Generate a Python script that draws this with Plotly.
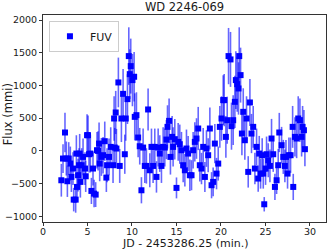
import plotly.graph_objects as go

time_min = [2.06, 2.25, 2.47, 2.62, 2.74, 2.89, 3.07, 3.19, 3.37, 3.45,
            3.67, 3.75, 3.82, 3.94, 4.05, 4.12, 4.20, 4.35, 4.50, 4.72,
            4.80, 4.95, 5.06, 5.17, 5.32, 5.44, 5.62, 5.74, 5.92, 6.07,
            6.19, 6.30, 6.37, 6.56, 6.75, 6.94, 7.12, 7.20, 7.42, 7.61,
            7.87, 7.99, 8.06, 8.17, 8.25, 8.47, 8.62, 8.81, 9.00, 9.19,
            9.30, 9.49, 9.64, 9.75, 9.86, 10.05, 10.24, 10.31, 10.50, 10.69,
            10.87, 11.06, 11.25, 11.44, 11.62, 11.81, 12.00, 12.19, 12.37, 12.56,
            12.75, 12.94, 13.12, 13.31, 13.50, 13.69, 13.87, 13.99, 14.17, 14.32,
            14.51, 14.62, 14.81, 15.00, 15.19, 15.37, 15.56, 15.75, 15.94, 16.12,
            16.31, 16.50, 16.69, 16.87, 17.06, 17.25, 17.44, 17.62, 17.81, 18.00,
            18.19, 18.37, 18.56, 18.75, 18.94, 19.12, 19.31, 19.50, 19.69, 19.87,
            20.06, 20.25, 20.36, 20.55, 20.70, 20.85, 21.07, 21.18, 21.37, 21.56,
            21.67, 21.82, 21.97, 22.05, 22.20, 22.35, 22.50, 22.68, 22.87, 23.06,
            23.25, 23.43, 23.62, 23.81, 24.00, 24.18, 24.30, 24.45, 24.63, 24.75,
            24.86, 25.01, 25.12, 25.31, 25.50, 25.68, 25.87, 26.06, 26.25, 26.43,
            26.55, 26.81, 27.00, 27.18, 27.30, 27.48, 27.63, 27.82, 28.05, 28.12,
            28.31, 28.50, 28.68, 28.87, 29.06, 29.17, 29.32, 29.43]

flux = [-449, -117, 281, -117, -464, -117, -194, -398, -270, -745,
        -745, -41, -551, -372, -219, -41, -474, -219, -92, -270,
        -388, 240, 240, -51, -41, -612, -270, -653, -668, 10,
        0, 112, -194, -92, -66, 148, -408, -219, -92, 61,
        -219, 495, 51, 587, 36, 1046, -230, 495, 872, -51,
        495, 791, 1449, 1173, 1296, 1082, 1133, 520, 546, 204,
        71, -602, 51, -230, -230, 633, -296, 61, -230, 61,
        -398, 51, -41, -230, 61, 51, 173, 367, 459, -92,
        214, 61, 179, -566, 138, 102, 10, -219, -296, 36,
        -41, -372, -372, 10, 138, 189, 342, -219, -270, 61,
        -398, 36, -66, 342, -525, -474, 112, -347, -194, 367,
        495, 776, 776, 214, 469, 1449, 1398, 378, 469, 750,
        1082, 1020, 954, 1449, 1158, 265, 597, 163, 495, -321,
        740, 265, 367, -270, 61, -423, -41, -347, -66, -347,
        -816, -270, -51, -143, -230, 189, -51, -551, -449, -219,
        281, 87, -92, -230, -92, -347, -66, -66, 367, -551,
        214, 189, 495, 469, 214, 367, 316, 26]

flux_err = [250, 220, 300, 260, 240, 250, 260, 230, 250, 180,
            200, 280, 230, 250, 260, 300, 240, 260, 280, 250,
            240, 320, 300, 280, 290, 200, 260, 210, 190, 280,
            300, 320, 270, 290, 280, 300, 220, 260, 280, 300,
            270, 340, 300, 330, 300, 380, 260, 360, 380, 300,
            340, 380, 440, 380, 420, 400, 380, 360, 350, 300,
            280, 200, 290, 260, 270, 320, 260, 280, 260, 280,
            240, 290, 280, 260, 300, 290, 300, 330, 340, 270,
            320, 300, 310, 160, 290, 300, 280, 260, 250, 290,
            270, 240, 230, 280, 300, 310, 330, 250, 240, 290,
            230, 280, 260, 320, 200, 220, 300, 240, 260, 320,
            340, 380, 400, 320, 360, 430, 420, 360, 380, 400,
            440, 420, 400, 440, 420, 330, 360, 300, 340, 240,
            360, 300, 320, 240, 280, 200, 270, 230, 260, 230,
            110, 250, 270, 260, 250, 300, 270, 200, 210, 250,
            300, 280, 260, 250, 260, 230, 270, 270, 320, 200,
            300, 300, 340, 330, 300, 320, 310, 260]

FONT = "DejaVu Sans"
TXT = "#1a1a1a"

fig = go.Figure()
fig.add_trace(go.Scatter(
    x=time_min, y=flux, mode="markers", name="FUV",
    marker=dict(symbol="square", size=6, color="#0000ff"),
    error_y=dict(type="data", array=flux_err, visible=True,
                 color="rgba(0,0,255,0.6)", thickness=1.6, width=0),
))

axis_common = dict(
    showgrid=False, zeroline=False, showline=True, linecolor="#333",
    linewidth=1, mirror=True, ticks="outside", ticklen=3, tickcolor="#333",
    automargin=False,
    tickfont=dict(family=FONT, size=9.5, color=TXT),
)

fig.update_layout(
    width=333, height=249,
    margin=dict(l=43, r=7, t=15, b=27),
    paper_bgcolor="white", plot_bgcolor="white",
    title=dict(text="WD 2246-069", x=0.5, xref="paper", xanchor="center",
               y=0.972, yanchor="middle", yref="container",
               font=dict(family=FONT, size=11.5, color=TXT)),
    showlegend=True,
    legend=dict(x=0.021, y=0.972, xanchor="left", yanchor="top",
                bgcolor="white", bordercolor="#cccccc", borderwidth=1,
                font=dict(family=FONT, size=11, color=TXT)),
    xaxis=dict(range=[0, 31.8], tickvals=[0, 5, 10, 15, 20, 25, 30],
               ticklabelstandoff=-2, **axis_common),
    yaxis=dict(range=[-1087, 2077], tickvals=[-1000, -500, 0, 500, 1000, 1500, 2000],
               **axis_common),
    annotations=[
        dict(text="JD - 2453286.25 (min.)", xref="paper", yref="paper",
             x=0.5, y=-0.1055, xanchor="center", yanchor="middle", showarrow=False,
             font=dict(family=FONT, size=11, color=TXT)),
        dict(text="Flux (mmi)", xref="paper", yref="paper", textangle=-90,
             x=-0.124, y=0.52, xanchor="center", yanchor="middle", showarrow=False,
             font=dict(family=FONT, size=11.5, color=TXT)),
    ],
)

fig.write_html("out.html", config={"displayModeBar": False},
               post_script="document.body.style.margin='0';document.body.style.overflow='hidden';")
